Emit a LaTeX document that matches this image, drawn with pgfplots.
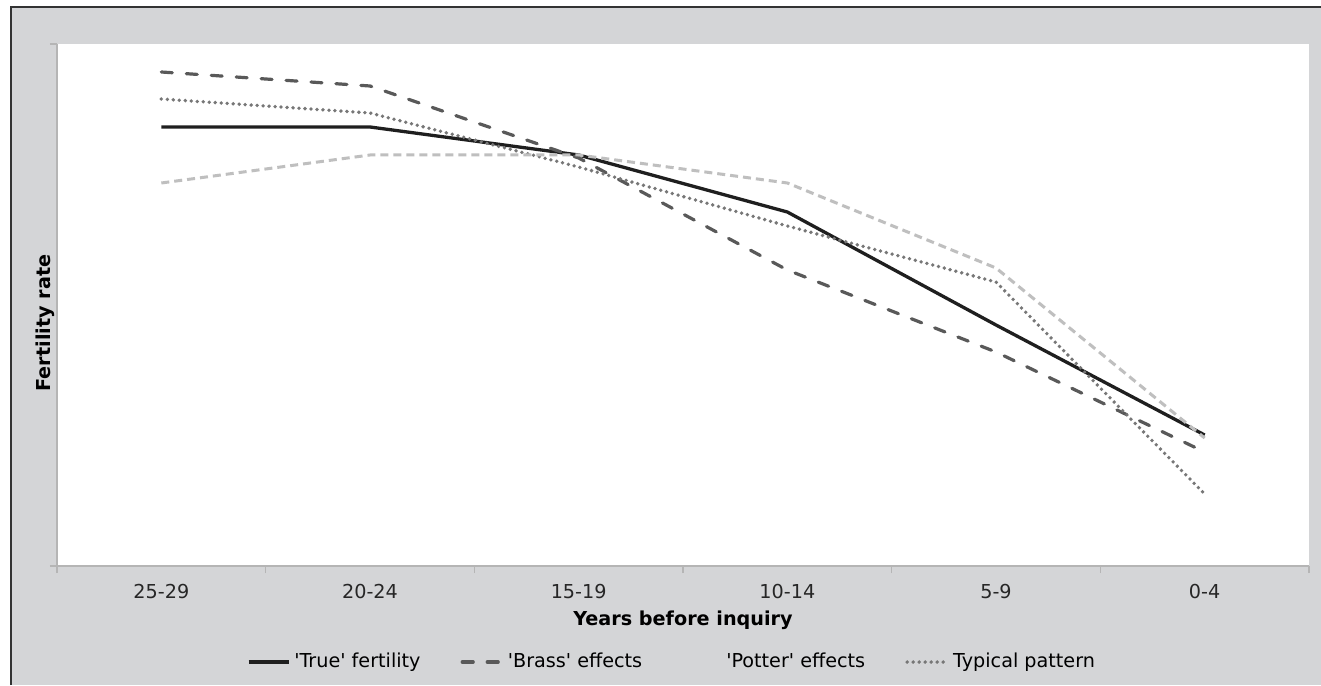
\documentclass[border=0pt]{standalone}
\usepackage{fontspec}
\setmainfont{DejaVu Sans}
\usepackage{pgfplots}
\pgfplotsset{compat=1.18}

\definecolor{bggray}{HTML}{D4D5D7}
\definecolor{framegray}{HTML}{333333}
\definecolor{axisgray}{HTML}{B5B5B5}
\definecolor{truecol}{HTML}{1F1F1F}
\definecolor{brasscol}{HTML}{595959}
\definecolor{pottercol}{HTML}{BFBFBF}
\definecolor{typcol}{HTML}{777777}

% y values are in picture units, 0 = bottom of the plot area
\pgfplotstableread{
x true brass potter typical
0 439 494 383 467
1 439 480 411 453
2 411 408 411 399
3 354 296 383 340
4 241 214 298 284
5 131 114 128  72
}\rates

\newcommand{\q}{\textquotesingle}

\begin{document}
\begin{tikzpicture}
\useasboundingbox (0,0) rectangle (660.5pt,342.5pt);
\fill[bggray] (5.5pt,0) rectangle (660.5pt,339pt);
\draw[line width=1.1pt, framegray] (5.5pt,0) -- (5.5pt,339pt) -- (660.5pt,339pt);
\begin{axis}[
    at={(28.5pt,59.5pt)}, anchor=south west,
    scale only axis, width=626pt, height=261pt,
    axis background/.style={fill=white},
    axis x line*=bottom, axis y line*=left,
    axis line style={axisgray, line width=0.6pt, -},
    xmin=-0.5, xmax=5.5, ymin=0, ymax=522,
    xtick={0,...,5},
    xticklabels={25-29,20-24,15-19,10-14,5-9,0-4},
    minor xtick={-0.5,0.5,...,5.5},
    major x tick style={draw=none},
    ytick={0,522}, yticklabels={},
    tick align=outside,
    major tick length=3.5pt, minor tick length=3.5pt,
    tick style={axisgray, line width=0.6pt},
    xticklabel style={font=\fontsize{9.6}{11}\selectfont, text=black!85, anchor=center, yshift=-9.5pt},
    xlabel={\bfseries Years before inquiry},
    xlabel style={font=\fontsize{9.6}{11}\selectfont, at={(axis description cs:0.5,-0.104)}, anchor=center},
    ylabel={\bfseries Fertility rate},
    ylabel style={font=\fontsize{9.6}{11}\selectfont, at={(axis description cs:-0.0096,0.4655)}, anchor=center},
    legend columns=4,
    legend style={at={(0.492,-0.184)}, anchor=center, draw=none, fill=none,
        font=\fontsize{9.6}{11}\selectfont,
        /tikz/every even column/.append style={column sep=18pt}},
    legend cell align=left,
    legend image code/.code={\draw[#1] (0pt,0pt) -- (20pt,0pt);},
]
\addplot[truecol, line width=1.65pt] table[x=x, y=true] {\rates};
\addlegendentry{\q True\q{} fertility}
\addplot[brasscol, line width=1.6pt, line cap=round, dash pattern=on 5.5pt off 7pt] table[x=x, y=brass] {\rates};
\addlegendentry{\q Brass\q{} effects}
\addlegendimage{legend image code/.code={\path[draw=none] (0pt,0pt) -- (20pt,0pt);}}
\addlegendentry{\q Potter\q{} effects}
\addplot[typcol, line width=1.9pt, line cap=round, dash pattern=on 0pt off 3pt] table[x=x, y=typical] {\rates};
\addlegendentry{Typical pattern}
\addplot[pottercol, line width=1.5pt, dash pattern=on 4pt off 2.5pt, forget plot] table[x=x, y=potter] {\rates};
\end{axis}
\end{tikzpicture}
\end{document}
